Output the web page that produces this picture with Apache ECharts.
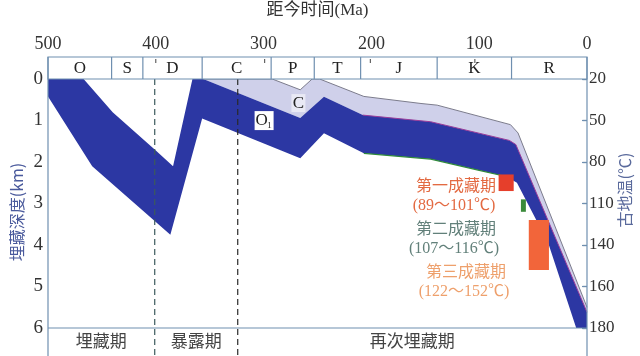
<!DOCTYPE html>
<html><head><meta charset="utf-8">
<script src="https://cdn.jsdelivr.net/npm/echarts@6/dist/echarts.min.js"></script>
<style>html,body{margin:0;padding:0;background:#fff}#c{width:640px;height:356px}</style>
</head><body><div id="c"></div>
<script>
// Geological periods: names and boundary ages (Ma)
const periodNames = ['O', 'S', 'D', 'C', 'P', 'T', 'J', 'K', 'R'];
const periodBounds = [500, 441, 412, 357, 293, 253, 210, 139, 70, 0];
const stageMarks = [400, 299, 201, 104];

// Axis tick values
const ageTicks = [500, 400, 300, 200, 100, 0];
const depthTicks = [0, 1, 2, 3, 4, 5, 6];
const tempTicks = [20, 50, 80, 110, 140, 160, 180];

// O1 reservoir burial path: top and base (age Ma, depth km)
const o1TopAge =   [500, 467, 440, 400, 384, 366, 356, 266, 244, 208, 145, 72, 66, 0];
const o1TopDepth = [0, 0, 0.8, 1.72, 2.1, 0, 0, 0.94, 0.43, 0.87, 1.03, 1.48, 1.58, 5.62];
const o1BaseAge =   [500, 459, 386.5, 357, 266, 244, 207, 145, 100, 75, 65, 58, 36, 10, 0];
const o1BaseDepth = [0.42, 2.1, 3.75, 0.95, 1.91, 1.31, 1.79, 1.93, 2.2, 2.35, 2.5, 2.85, 3.95, 6, 6];

// Carboniferous cover: top surface (its base is the O1 top)
const capTopAge =   [356, 292, 266, 255, 248, 207, 154, 139, 71, 64, 0];
const capTopDepth = [0, 0, 0.26, 0, 0, 0.42, 0.59, 0.63, 1.1, 1.3, 5.5];

// Burial phases (boundary ages)
const phaseNames = ['埋藏期', '暴露期', '再次埋藏期'];
const phaseBounds = [500, 401, 324, 0];

// Hydrocarbon accumulation stages
const stageNames = ['第一成藏期', '第二成藏期', '第三成藏期'];
const stageTempLow = [89, 107, 122];
const stageTempHigh = [101, 116, 152];
const stageAgeFrom = [82, 61.3, 54];
const stageAgeTo = [68, 56.7, 35.3];

const BLUE = '#2c37a3';
const LAVENDER = '#cfd0ea';
const FRAME = '#6f8fb0';
const SERIF = '"Liberation Serif", "Noto Sans CJK SC", serif';
const CJK = '"Noto Sans CJK SC", "Liberation Serif", sans-serif';

// palaeotemperature -> burial depth, piecewise along the temperature axis
function tempToDepth(t) {
  for (let i = 0; i < tempTicks.length - 1; i++) {
    if (t <= tempTicks[i + 1]) {
      return depthTicks[i] + (t - tempTicks[i]) / (tempTicks[i + 1] - tempTicks[i]) * (depthTicks[i + 1] - depthTicks[i]);
    }
  }
  return depthTicks[depthTicks.length - 1];
}

function renderAll(params, api) {
  const P = (a, d) => api.coord([a, d]);
  const pts = (ages, depths) => ages.map((a, i) => P(a, depths[i]));
  const kids = [];
  const y0 = P(0, 0)[1];
  const y6 = P(0, 6)[1];
  const xL = P(500, 0)[0];
  const xR = P(0, 0)[0];
  const boxTop = y0 - 22;
  const bottom = 356;

  // cover layer
  const capTop = pts(capTopAge, capTopDepth);
  const capBase = [];
  o1TopAge.forEach((a, i) => { if (a <= capTopAge[0]) capBase.push(P(a, o1TopDepth[i])); });
  kids.push({type: 'polygon', shape: {points: capTop.concat(capBase.slice().reverse())}, style: {fill: LAVENDER}});

  // O1 reservoir
  const o1Top = pts(o1TopAge, o1TopDepth);
  const o1Base = pts(o1BaseAge, o1BaseDepth);
  kids.push({type: 'polygon', shape: {points: o1Top.concat(o1Base.slice().reverse())}, style: {fill: BLUE}});

  // boundary strokes
  kids.push({type: 'polyline', shape: {points: capTop}, style: {stroke: '#7c7c8c', lineWidth: 1, fill: null}});
  const magenta = [];
  o1TopAge.forEach((a, i) => { if (a <= 208) magenta.push(P(a, o1TopDepth[i])); });
  kids.push({type: 'polyline', shape: {points: magenta}, style: {stroke: '#9a3c9a', lineWidth: 1, fill: null}});
  const green = [];
  o1BaseAge.forEach((a, i) => { if (a <= 207 && a >= 75) green.push(P(a, o1BaseDepth[i])); });
  kids.push({type: 'polyline', shape: {points: green}, style: {stroke: '#2f8a3a', lineWidth: 1.2, fill: null}});

  // accumulation stage bars
  const barColors = ['#e63f2b', '#3a8a3a', '#f2653a'];
  stageNames.forEach((n, i) => {
    const p1 = P(stageAgeFrom[i], tempToDepth(stageTempLow[i]));
    const p2 = P(stageAgeTo[i], tempToDepth(stageTempHigh[i]));
    kids.push({type: 'rect', shape: {x: p1[0], y: p1[1], width: p2[0] - p1[0], height: p2[1] - p1[1]}, style: {fill: barColors[i]}});
  });

  // stage annotations
  const txtColors = ['#e36a42', '#62807a', '#eea06c'];
  const txtCenters = [456, 456, 466];
  const txtRows = [185, 228, 271];
  stageNames.forEach((n, i) => {
    kids.push({type: 'text', style: {x: txtCenters[i], y: txtRows[i], text: n, fill: txtColors[i], font: '16px ' + CJK, align: 'center', verticalAlign: 'middle'}});
    kids.push({type: 'text', style: {x: txtCenters[i] - 2, y: txtRows[i] + 21, text: '(' + stageTempLow[i] + '～' + stageTempHigh[i] + '℃)', fill: txtColors[i], font: '16px ' + SERIF, align: 'center', verticalAlign: 'middle'}});
  });

  // layer labels
  const cPos = P(267.7, 0.58);
  kids.push({type: 'rect', shape: {x: cPos[0] - 7, y: cPos[1] - 9, width: 14, height: 18}, style: {fill: '#e9e9f5'}});
  kids.push({type: 'text', style: {x: cPos[0], y: cPos[1], text: 'C', fill: '#222', font: '17px ' + SERIF, align: 'center', verticalAlign: 'middle'}});
  const oPos = P(300, 0.99);
  kids.push({type: 'rect', shape: {x: oPos[0] - 9, y: oPos[1] - 9, width: 19, height: 19}, style: {fill: '#ffffff'}});
  kids.push({type: 'text', style: {x: oPos[0] - 2, y: oPos[1], text: 'O', fill: '#222', font: '17px ' + SERIF, align: 'center', verticalAlign: 'middle'}});
  kids.push({type: 'text', style: {x: oPos[0] + 6, y: oPos[1] + 6, text: '1', fill: '#222', font: '9px ' + SERIF, align: 'center', verticalAlign: 'middle'}});

  // phase separators (dashed)
  const dashColors = ['#3b5a5c', '#2a2a2a'];
  [phaseBounds[1], phaseBounds[2]].forEach((a, i) => {
    const x = P(a, 0)[0];
    kids.push({type: 'line', shape: {x1: x, y1: y0, x2: x, y2: bottom}, style: {stroke: dashColors[i], lineWidth: 1.2, lineDash: [6, 4]}});
  });
  phaseNames.forEach((n, i) => {
    const xm = (P(phaseBounds[i], 0)[0] + P(phaseBounds[i + 1], 0)[0]) / 2;
    kids.push({type: 'text', style: {x: xm, y: y6 + 13, text: n, fill: '#444', font: '17px ' + CJK, align: 'center', verticalAlign: 'middle'}});
  });

  // period strip
  kids.push({type: 'rect', shape: {x: xL, y: boxTop, width: xR - xL, height: y0 - boxTop}, style: {fill: '#fff', stroke: FRAME, lineWidth: 1.2}});
  periodBounds.slice(1, -1).forEach(a => {
    const x = P(a, 0)[0];
    kids.push({type: 'line', shape: {x1: x, y1: boxTop, x2: x, y2: y0}, style: {stroke: FRAME, lineWidth: 1.2}});
  });
  stageMarks.forEach(a => {
    const x = P(a, 0)[0];
    kids.push({type: 'line', shape: {x1: x, y1: boxTop + 2, x2: x, y2: boxTop + 6}, style: {stroke: '#444', lineWidth: 1}});
  });
  periodNames.forEach((n, i) => {
    const xm = (P(periodBounds[i], 0)[0] + P(periodBounds[i + 1], 0)[0]) / 2;
    kids.push({type: 'text', style: {x: xm, y: (boxTop + y0) / 2 + 1, text: n, fill: '#222', font: '17px ' + SERIF, align: 'center', verticalAlign: 'middle'}});
  });

  // frame lines
  kids.push({type: 'line', shape: {x1: xL, y1: boxTop, x2: xL, y2: bottom}, style: {stroke: FRAME, lineWidth: 1.2}});
  kids.push({type: 'line', shape: {x1: xR, y1: boxTop, x2: xR, y2: bottom}, style: {stroke: FRAME, lineWidth: 1.2}});
  kids.push({type: 'line', shape: {x1: xL, y1: y6, x2: xR, y2: y6}, style: {stroke: FRAME, lineWidth: 1.2}});

  // vertical axis titles
  kids.push({type: 'text', x: 17, y: 212, rotation: Math.PI / 2,
    style: {x: 0, y: 0, text: '埋藏深度(km)', fill: '#4a5a9c', font: '16px ' + CJK, align: 'center', verticalAlign: 'middle'}});
  kids.push({type: 'text', x: 625, y: 190, rotation: Math.PI / 2,
    style: {x: 0, y: 0, text: '古地温(℃)', fill: '#5a6a9c', font: '16px ' + CJK, align: 'center', verticalAlign: 'middle'}});

  return {type: 'group', children: kids};
}

const chart = echarts.init(document.getElementById('c'), null, {renderer: 'canvas'});
chart.setOption({
  animation: false,
  backgroundColor: '#fff',
  grid: {left: 48, right: 53, top: 79, bottom: 28, containLabel: false, outerBoundsMode: 'none'},
  xAxis: {
    type: 'value', min: 0, max: 500, interval: 100, inverse: true, position: 'top',
    axisLine: {show: false}, axisTick: {show: false}, splitLine: {show: false},
    axisLabel: {margin: 26, fontFamily: SERIF, fontSize: 18, color: '#333', showMinLabel: true, showMaxLabel: true,
      formatter: v => ageTicks.indexOf(v) >= 0 ? String(v) : ''},
    name: '距今时间(Ma)', nameLocation: 'middle', nameGap: 60,
    nameTextStyle: {fontFamily: SERIF, fontSize: 17, color: '#333'}
  },
  yAxis: [{
    type: 'value', min: 0, max: 6, interval: 1, inverse: true,
    axisLine: {show: false}, splitLine: {show: false},
    axisTick: {show: true, length: 4, lineStyle: {color: FRAME, width: 1.2}},
    axisLabel: {margin: 5, fontFamily: SERIF, fontSize: 19, color: '#333', formatter: v => String(depthTicks[v])}
  }, {
    type: 'value', min: 0, max: 6, interval: 1, inverse: true, position: 'right',
    axisLine: {show: false}, splitLine: {show: false},
    axisTick: {show: true, inside: true, length: 5, lineStyle: {color: FRAME, width: 1.2}},
    axisLabel: {margin: 2, fontFamily: SERIF, fontSize: 17, color: '#333', formatter: v => String(tempTicks[v])}
  }],
  series: [{
    type: 'custom', clip: false, silent: true,
    renderItem: renderAll, data: [0]
  }]
});
</script>
</body></html>
